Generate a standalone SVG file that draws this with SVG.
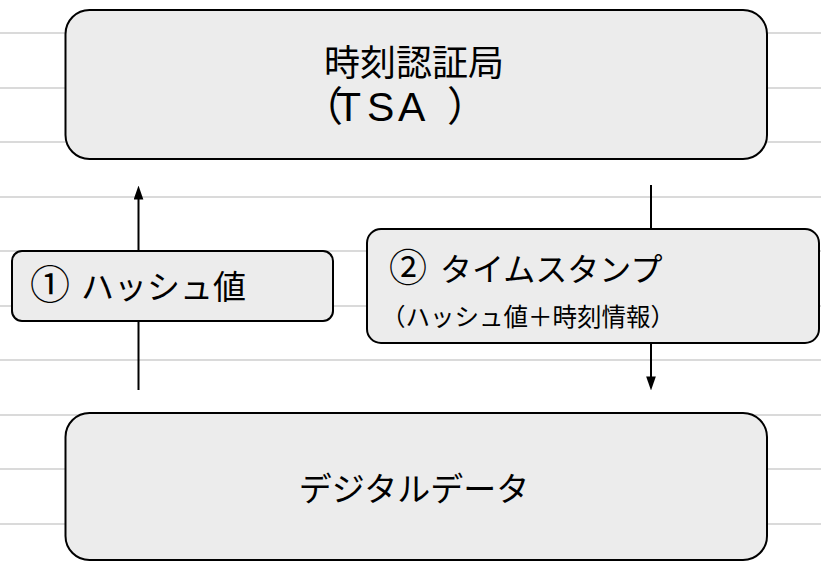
<svg xmlns="http://www.w3.org/2000/svg" width="821" height="562" viewBox="0 0 821 562">
<style>
.grid line{stroke:#dadada;stroke-width:2}
.box{fill:#ececec;stroke:#000;stroke-width:2}
.t{font-family:"Noto Sans CJK JP","Noto Sans",sans-serif;fill:#000}
.lat{font-family:"Liberation Sans","Noto Sans CJK JP",sans-serif}
.conn line{stroke:#000;stroke-width:2}
</style>
<defs>
<marker id="ah" markerUnits="userSpaceOnUse" markerWidth="14" markerHeight="10" viewBox="0 0 13 9" refX="7" refY="4.5" orient="auto">
<path d="M0 0 L13 4.5 L0 9 Z" fill="#000"/>
</marker>
</defs>
<rect width="821" height="562" fill="#fff"/>
<g class="grid">
<line x1="0" y1="33" x2="821" y2="33"/>
<line x1="0" y1="88" x2="821" y2="88"/>
<line x1="0" y1="142" x2="821" y2="142"/>
<line x1="0" y1="197" x2="821" y2="197"/>
<line x1="0" y1="251" x2="821" y2="251"/>
<line x1="0" y1="306" x2="821" y2="306"/>
<line x1="0" y1="360" x2="821" y2="360"/>
<line x1="0" y1="415" x2="821" y2="415"/>
<line x1="0" y1="469" x2="821" y2="469"/>
<line x1="0" y1="524" x2="821" y2="524"/>
</g>
<g id="connectors" class="conn">
<line x1="138.5" y1="390" x2="138.5" y2="192" marker-end="url(#ah)"/>
<line x1="651" y1="185" x2="651" y2="384" marker-end="url(#ah)"/>
</g>
<g id="tsa">
<rect class="box" x="65.5" y="10" width="701.5" height="149" rx="24"/>
<text class="t" font-size="36"><tspan x="414" y="76" text-anchor="middle">時刻認証局</tspan><tspan class="lat" x="302 336 367 398 447" y="121" font-size="41">（TSA）</tspan></text>
</g>
<g id="data">
<rect class="box" x="65.5" y="413" width="701.5" height="147" rx="24"/>
<text class="t" x="414" y="501" font-size="33" text-anchor="middle">デジタルデータ</text>
</g>
<g id="hash">
<rect class="box" x="12" y="251" width="321" height="70" rx="10"/>
<text class="t" y="299"><tspan x="30" font-size="40">①</tspan><tspan x="81" font-size="33">ハッシュ値</tspan></text>
</g>
<g id="stamp">
<rect class="box" x="367" y="229" width="452" height="114" rx="14"/>
<text class="t" y="281"><tspan x="389" font-size="38">②</tspan><tspan x="440" font-size="32">タイムスタンプ</tspan></text>
<text class="t" x="381" y="326" font-size="24.5">（ハッシュ値＋時刻情報）</text>
</g>
</svg>
